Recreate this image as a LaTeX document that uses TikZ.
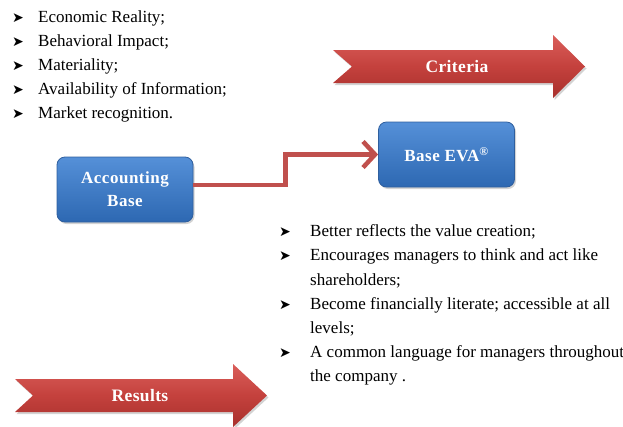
\documentclass[tikz,border=0pt]{standalone}
\usepackage{fontspec}
\setmainfont{Liberation Serif}
\newfontfamily\dingfont{DejaVu Sans}
\usetikzlibrary{shadows,arrows.meta,calc}

\definecolor{ofred}{HTML}{C4413D}
\definecolor{redtop}{HTML}{DA5E5A}
\definecolor{redbot}{HTML}{A8302C}
\definecolor{bluetop}{HTML}{5590D8}
\definecolor{bluebot}{HTML}{2D68B2}
\definecolor{blueedge}{HTML}{2F5F9E}
\definecolor{linered}{HTML}{C0504D}

\tikzset{
  bluebox/.style={draw=blueedge, line width=0.8pt, rounded corners=8pt,
    top color=bluetop, bottom color=bluebot, middle color=bluetop!50!bluebot,
    minimum width=136pt, minimum height=65pt, align=center,
    text=white, font=\fontsize{17}{23}\selectfont\bfseries\addfontfeature{LetterSpace=3},
    drop shadow={shadow xshift=1.5pt, shadow yshift=-2pt, opacity=0.35}},
  banner/.style={top color=redtop, bottom color=redbot, middle color=ofred,
    drop shadow={shadow xshift=1.5pt, shadow yshift=-2pt, opacity=0.35}},
  bannertext/.style={text=white, font=\fontsize{17.5}{19}\selectfont\bfseries\addfontfeature{LetterSpace=2}},
  bullet/.style={font=\dingfont\fontsize{14}{14}\selectfont, inner sep=0pt},
  itemtext/.style={anchor=west, inner sep=0pt, font=\fontsize{17}{19}\selectfont},
  conn/.style={draw=linered, line width=4.5pt,
    -{Straight Barb[length=12pt, width=26pt, line width=4.5pt]}},
}

\begin{document}
\begin{tikzpicture}[x=1pt, y=-1pt]
  \useasboundingbox (0,0) rectangle (623,426);

  % criteria list
  \foreach \t [count=\i] in {{Economic Reality;}, {Behavioral Impact;},
      {Materiality;}, {Availability of Information;}, {Market recognition.}} {
    \node[bullet] (cb\i) at (18, {18 + 24*(\i-1)}) {➤};
    \node[itemtext] (ct\i) at (38, {18 + 24*(\i-1)}) {\t};
  }

  % banner arrows
  \path[banner] (333,50) -- (553,50) -- (553,35) -- (585,66.5) -- (553,98)
    -- (553,83) -- (333,83) -- (352,66.5) -- cycle;
  \node[bannertext] (crit) at (457,66.5) {Criteria};

  \path[banner] (15,379) -- (233,379) -- (233,364) -- (267,395.5) -- (233,427)
    -- (233,412) -- (15,412) -- (33,395.5) -- cycle;
  \node[bannertext] (res) at (140,395.5) {Results};

  % boxes and connector
  \node[bluebox] (acc) at (125,189.5) {Accounting\\Base};
  \node[bluebox] (eva) at (446.5,154.5) {Base EVA\textsuperscript{®}};
  \draw[conn] ([yshift=4.5pt]acc.east) -- ++(92,0) |- (eva.west);

  % results list
  \node[bullet] (rb1) at (285,232) {➤};
  \node[itemtext] (rt1) at (310,232) {Better reflects the value creation;};
  \node[bullet] (rb2) at (285,256.5) {➤};
  \node[itemtext] (rt2) at (310,256.5) {Encourages managers to think and act like};
  \node[itemtext] (rt3) at (310,280.5) {shareholders;};
  \node[bullet] (rb4) at (285,305) {➤};
  \node[itemtext] (rt4) at (310,305) {Become financially literate; accessible at all};
  \node[itemtext] (rt5) at (310,329) {levels;};
  \node[bullet] (rb6) at (285,353) {➤};
  \node[itemtext] (rt6) at (310,353) {A common language for managers throughout};
  \node[itemtext] (rt7) at (310,377.5) {the company .};
\end{tikzpicture}
\end{document}
